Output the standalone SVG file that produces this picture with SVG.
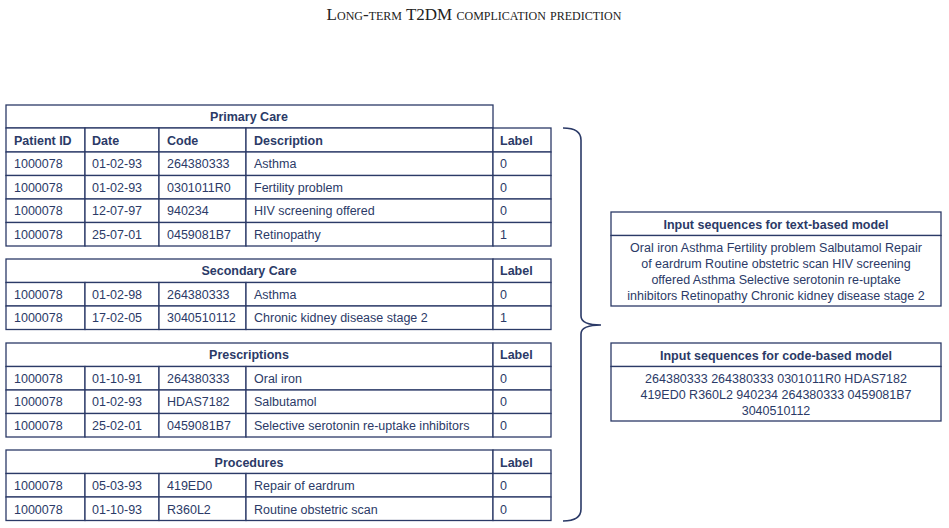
<svg xmlns="http://www.w3.org/2000/svg" width="949" height="528" viewBox="0 0 949 528">
<style>
.c{fill:#fff;stroke:#2b3a67;stroke-width:1.3}
text{font-family:"Liberation Sans",Arial,sans-serif;font-size:12.5px;fill:#2b3a67}
.b{font-weight:bold}
.m{text-anchor:middle}
.t{font-family:"Liberation Serif","Times New Roman",serif;font-size:17px;font-variant:small-caps;fill:#222;text-anchor:middle}
</style>
<rect width="949" height="528" fill="#fff"/>
<text class="t" x="474" y="20">Long-term T2DM complication prediction</text>
<g id="primary">
<rect class="c" x="6" y="105" width="487" height="23"/>
<text class="b m" x="249" y="121">Primary Care</text>
<rect class="c" x="6" y="128" width="79" height="24"/><rect class="c" x="85" y="128" width="74" height="24"/><rect class="c" x="159" y="128" width="87" height="24"/><rect class="c" x="246" y="128" width="247" height="24"/><rect class="c" x="493" y="128" width="58" height="24"/>
<text class="b" x="14" y="145">Patient ID</text><text class="b" x="92" y="145">Date</text><text class="b" x="167" y="145">Code</text><text class="b" x="254" y="145">Description</text><text class="b" x="500" y="145">Label</text>
<rect class="c" x="6" y="152" width="79" height="23.5"/><rect class="c" x="85" y="152" width="74" height="23.5"/><rect class="c" x="159" y="152" width="87" height="23.5"/><rect class="c" x="246" y="152" width="247" height="23.5"/><rect class="c" x="493" y="152" width="58" height="23.5"/>
<rect class="c" x="6" y="175.5" width="79" height="23.5"/><rect class="c" x="85" y="175.5" width="74" height="23.5"/><rect class="c" x="159" y="175.5" width="87" height="23.5"/><rect class="c" x="246" y="175.5" width="247" height="23.5"/><rect class="c" x="493" y="175.5" width="58" height="23.5"/>
<rect class="c" x="6" y="199" width="79" height="23.5"/><rect class="c" x="85" y="199" width="74" height="23.5"/><rect class="c" x="159" y="199" width="87" height="23.5"/><rect class="c" x="246" y="199" width="247" height="23.5"/><rect class="c" x="493" y="199" width="58" height="23.5"/>
<rect class="c" x="6" y="222.5" width="79" height="23.5"/><rect class="c" x="85" y="222.5" width="74" height="23.5"/><rect class="c" x="159" y="222.5" width="87" height="23.5"/><rect class="c" x="246" y="222.5" width="247" height="23.5"/><rect class="c" x="493" y="222.5" width="58" height="23.5"/>
<text x="14" y="168">1000078</text><text x="92" y="168">01-02-93</text><text x="167" y="168">264380333</text><text x="254" y="168">Asthma</text><text x="500" y="168">0</text>
<text x="14" y="192">1000078</text><text x="92" y="192">01-02-93</text><text x="167" y="192">0301011R0</text><text x="254" y="192">Fertility problem</text><text x="500" y="192">0</text>
<text x="14" y="215">1000078</text><text x="92" y="215">12-07-97</text><text x="167" y="215">940234</text><text x="254" y="215">HIV screening offered</text><text x="500" y="215">0</text>
<text x="14" y="239">1000078</text><text x="92" y="239">25-07-01</text><text x="167" y="239">0459081B7</text><text x="254" y="239">Retinopathy</text><text x="500" y="239">1</text>
</g>
<g id="secondary">
<rect class="c" x="6" y="259" width="487" height="23.5"/><rect class="c" x="493" y="259" width="58" height="23.5"/>
<text class="b m" x="249" y="275">Secondary Care</text><text class="b" x="500" y="275">Label</text>
<rect class="c" x="6" y="282.5" width="79" height="23.5"/><rect class="c" x="85" y="282.5" width="74" height="23.5"/><rect class="c" x="159" y="282.5" width="87" height="23.5"/><rect class="c" x="246" y="282.5" width="247" height="23.5"/><rect class="c" x="493" y="282.5" width="58" height="23.5"/>
<rect class="c" x="6" y="306" width="79" height="23.5"/><rect class="c" x="85" y="306" width="74" height="23.5"/><rect class="c" x="159" y="306" width="87" height="23.5"/><rect class="c" x="246" y="306" width="247" height="23.5"/><rect class="c" x="493" y="306" width="58" height="23.5"/>
<text x="14" y="299">1000078</text><text x="92" y="299">01-02-98</text><text x="167" y="299">264380333</text><text x="254" y="299">Asthma</text><text x="500" y="299">0</text>
<text x="14" y="322">1000078</text><text x="92" y="322">17-02-05</text><text x="167" y="322">3040510112</text><text x="254" y="322">Chronic kidney disease stage 2</text><text x="500" y="322">1</text>
</g>
<g id="prescriptions">
<rect class="c" x="6" y="343" width="487" height="23.5"/><rect class="c" x="493" y="343" width="58" height="23.5"/>
<text class="b m" x="249" y="359">Prescriptions</text><text class="b" x="500" y="359">Label</text>
<rect class="c" x="6" y="366.5" width="79" height="23.5"/><rect class="c" x="85" y="366.5" width="74" height="23.5"/><rect class="c" x="159" y="366.5" width="87" height="23.5"/><rect class="c" x="246" y="366.5" width="247" height="23.5"/><rect class="c" x="493" y="366.5" width="58" height="23.5"/>
<rect class="c" x="6" y="390" width="79" height="23.5"/><rect class="c" x="85" y="390" width="74" height="23.5"/><rect class="c" x="159" y="390" width="87" height="23.5"/><rect class="c" x="246" y="390" width="247" height="23.5"/><rect class="c" x="493" y="390" width="58" height="23.5"/>
<rect class="c" x="6" y="413.5" width="79" height="23.5"/><rect class="c" x="85" y="413.5" width="74" height="23.5"/><rect class="c" x="159" y="413.5" width="87" height="23.5"/><rect class="c" x="246" y="413.5" width="247" height="23.5"/><rect class="c" x="493" y="413.5" width="58" height="23.5"/>
<text x="14" y="383">1000078</text><text x="92" y="383">01-10-91</text><text x="167" y="383">264380333</text><text x="254" y="383">Oral iron</text><text x="500" y="383">0</text>
<text x="14" y="406">1000078</text><text x="92" y="406">01-02-93</text><text x="167" y="406">HDAS7182</text><text x="254" y="406">Salbutamol</text><text x="500" y="406">0</text>
<text x="14" y="430">1000078</text><text x="92" y="430">25-02-01</text><text x="167" y="430">0459081B7</text><text x="254" y="430">Selective serotonin re-uptake inhibitors</text><text x="500" y="430">0</text>
</g>
<g id="procedures">
<rect class="c" x="6" y="450" width="487" height="23.5"/><rect class="c" x="493" y="450" width="58" height="23.5"/>
<text class="b m" x="249" y="467">Procedures</text><text class="b" x="500" y="467">Label</text>
<rect class="c" x="6" y="473.5" width="79" height="23.5"/><rect class="c" x="85" y="473.5" width="74" height="23.5"/><rect class="c" x="159" y="473.5" width="87" height="23.5"/><rect class="c" x="246" y="473.5" width="247" height="23.5"/><rect class="c" x="493" y="473.5" width="58" height="23.5"/>
<rect class="c" x="6" y="497" width="79" height="23.5"/><rect class="c" x="85" y="497" width="74" height="23.5"/><rect class="c" x="159" y="497" width="87" height="23.5"/><rect class="c" x="246" y="497" width="247" height="23.5"/><rect class="c" x="493" y="497" width="58" height="23.5"/>
<text x="14" y="490">1000078</text><text x="92" y="490">05-03-93</text><text x="167" y="490">419ED0</text><text x="254" y="490">Repair of eardrum</text><text x="500" y="490">0</text>
<text x="14" y="514">1000078</text><text x="92" y="514">01-10-93</text><text x="167" y="514">R360L2</text><text x="254" y="514">Routine obstetric scan</text><text x="500" y="514">0</text>
</g>
<g id="connectors">
<path d="M563,128 Q581,128 581,140 L581,316 Q581,325 601,325 Q581,325 581,334 L581,509 Q581,521 563,521" fill="none" stroke="#2b3a67" stroke-width="1.6"/>
</g>
<g id="text-model">
<rect class="c" x="611" y="212" width="330" height="23.5"/><rect class="c" x="611" y="235.5" width="330" height="70.5"/>
<text class="b m" x="776" y="229">Input sequences for text-based model</text>
<text class="m" x="776" y="252">Oral iron Asthma Fertility problem Salbutamol Repair</text>
<text class="m" x="776" y="268">of eardrum Routine obstetric scan HIV screening</text>
<text class="m" x="776" y="284">offered Asthma Selective serotonin re-uptake</text>
<text class="m" x="776" y="300">inhibitors Retinopathy Chronic kidney disease stage 2</text>
</g>
<g id="code-model">
<rect class="c" x="611" y="343" width="330" height="23.5"/><rect class="c" x="611" y="366.5" width="330" height="54.5"/>
<text class="b m" x="776" y="360">Input sequences for code-based model</text>
<text class="m" x="776" y="383">264380333 264380333 0301011R0 HDAS7182</text>
<text class="m" x="776" y="399">419ED0 R360L2 940234 264380333 0459081B7</text>
<text class="m" x="776" y="415">3040510112</text>
</g>
</svg>
